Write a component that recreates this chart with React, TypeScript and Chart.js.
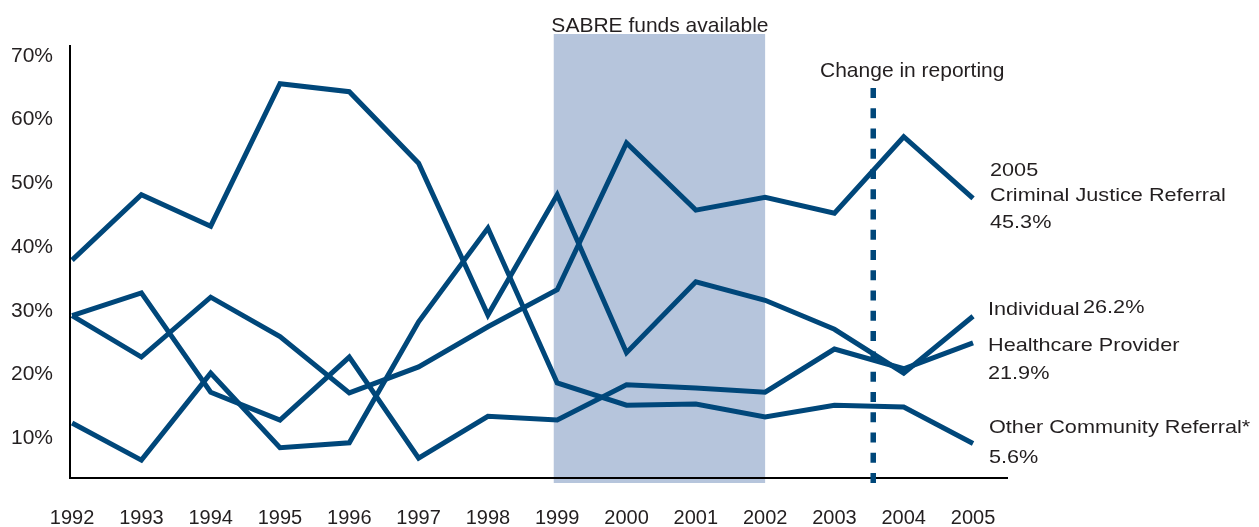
import { useEffect, useRef } from 'react';
import { Chart, registerables } from 'chart.js';

Chart.register(...registerables);

// ---- data ----
const years = [1992, 1993, 1994, 1995, 1996, 1997, 1998, 1999, 2000, 2001, 2002, 2003, 2004, 2005];
const criminalJustice = [26.3, 19.6, 29.3, 22.9, 13.8, 18.0, 24.5, 30.5, 54.3, 43.4, 45.5, 42.9, 55.3, 45.3];
const individual = [35.3, 45.9, 40.8, 63.9, 62.6, 51.0, 26.4, 45.9, 20.3, 31.8, 28.8, 24.1, 17.0, 26.2];
const healthcareProvider = [26.3, 30.0, 13.9, 9.4, 19.6, 3.2, 10.0, 9.4, 15.1, 14.6, 13.9, 20.9, 17.7, 21.9];
const otherCommunity = [8.9, 2.9, 17.0, 4.9, 5.7, 25.3, 40.5, 15.4, 11.8, 12.0, 9.9, 11.8, 11.5, 5.6];
const yTickValues = [10, 20, 30, 40, 50, 60, 70];
const sabrePeriod = [1998.95, 2002.0];
const reportingChange = 2003.56;

const FONT = '"Liberation Sans", Arial, Helvetica, sans-serif';
const LINE = '#00477a';
const SHADE = '#b6c5dc';
const TEXT = '#231f20';

function stretchText(ctx: CanvasRenderingContext2D, text: string, x: number, y: number, size: number, sx: number, align: CanvasTextAlign = 'left') {
  ctx.save();
  ctx.translate(x, y);
  ctx.scale(sx, 1);
  ctx.font = `${size}px ${FONT}`;
  ctx.textAlign = align;
  ctx.textBaseline = 'alphabetic';
  ctx.fillStyle = TEXT;
  ctx.fillText(text, 0, 0);
  ctx.restore();
}

const overlay = {
  id: 'overlay',
  beforeDraw(chart: any) {
    const { ctx, chartArea } = chart;
    const x = chart.scales.x;
    const x0 = x.getPixelForValue(sabrePeriod[0]);
    const x1 = x.getPixelForValue(sabrePeriod[1]);
    ctx.save();
    ctx.fillStyle = SHADE;
    const top = chartArea.top - 12;
    ctx.fillRect(x0, top, x1 - x0, chartArea.bottom + 5 - top);
    ctx.restore();
  },
  afterDraw(chart: any) {
    const { ctx, chartArea } = chart;
    const x = chart.scales.x;
    const xc = x.getPixelForValue(reportingChange);
    ctx.save();
    ctx.strokeStyle = LINE;
    ctx.lineWidth = 5.5;
    ctx.setLineDash([10, 10.26]);
    ctx.beginPath();
    ctx.moveTo(xc, 88);
    ctx.lineTo(xc, chartArea.bottom + 5);
    ctx.stroke();
    ctx.restore();

    const x0 = x.getPixelForValue(sabrePeriod[0]);
    const x1 = x.getPixelForValue(sabrePeriod[1]);
    stretchText(ctx, 'SABRE funds available', (x0 + x1) / 2 + 0.5, 32, 21, 1, 'center');
    stretchText(ctx, 'Change in reporting', xc + 39, 77, 21, 1, 'center');

    const lx = chartArea.right - 17;
    const s = 19, sx = 1.14;
    stretchText(ctx, '2005', lx, 176, s, sx);
    stretchText(ctx, 'Criminal Justice Referral', lx, 201, s, sx);
    stretchText(ctx, '45.3%', lx, 228, s, sx);
    stretchText(ctx, 'Individual', lx - 2, 315, s, sx);
    stretchText(ctx, '26.2%', lx + 93, 313, s, sx);
    stretchText(ctx, 'Healthcare Provider', lx - 2, 351, s, sx);
    stretchText(ctx, '21.9%', lx - 2, 379, s, sx);
    stretchText(ctx, 'Other Community Referral*', lx - 1, 433, s, sx);
    stretchText(ctx, '5.6%', lx - 1, 463, s, sx);
  },
};

function series(values: number[]) {
  return {
    data: years.map((yr, i) => ({ x: yr, y: values[i] })),
    borderColor: LINE,
    backgroundColor: LINE,
    borderWidth: 5,
    pointRadius: 0,
    tension: 0,
    borderJoinStyle: 'miter' as const,
    yAxisID: 'y',
  };
}

export default function App() {
  const ref = useRef<HTMLCanvasElement | null>(null);

  useEffect(() => {
    if (!ref.current) return;
    const chart = new Chart(ref.current, {
      type: 'line',
      data: {
        datasets: [
          { label: 'Criminal Justice Referral', ...series(criminalJustice) },
          { label: 'Individual', ...series(individual) },
          { label: 'Healthcare Provider', ...series(healthcareProvider) },
          { label: 'Other Community Referral*', ...series(otherCommunity) },
        ],
      },
      options: {
        animation: false,
        responsive: false,
        maintainAspectRatio: false,
        layout: { padding: { top: 46, right: 252, left: 0, bottom: 0 } },
        plugins: { legend: { display: false }, tooltip: { enabled: false } },
        scales: {
          x: {
            type: 'linear',
            min: 1991.97,
            max: 2005.49,
            grid: { display: false, drawTicks: false },
            border: { display: true, color: '#000', width: 2, z: 1 },
            afterBuildTicks: (scale: any) => {
              scale.ticks = years.map((v) => ({ value: v }));
            },
            afterFit: (scale: any) => {
              scale.height = 49;
            },
            ticks: {
              autoSkip: false,
              maxRotation: 0,
              padding: 28,
              color: TEXT,
              font: { family: FONT, size: 20 },
              callback: (v: any) => String(v),
            },
          },
          y: {
            type: 'linear',
            display: false,
            min: 0,
            max: 70,
          },
          yLabels: {
            type: 'linear',
            position: 'left',
            min: 3.76,
            max: 71.55,
            grid: { display: false, drawTicks: false },
            border: { display: true, color: '#000', width: 2, z: 1 },
            afterBuildTicks: (scale: any) => {
              scale.ticks = yTickValues.map((v) => ({ value: v }));
            },
            afterFit: (scale: any) => {
              scale.width = 70;
            },
            ticks: {
              padding: 17,
              color: TEXT,
              font: { family: FONT, size: 21 },
              callback: (v: any) => `${v}%`,
            },
          },
        },
      },
      plugins: [overlay],
    });
    return () => chart.destroy();
  }, []);

  return (
    <div style={{ position: 'absolute', left: 0, top: 0, width: 1259, height: 527, background: '#fff' }}>
      <canvas ref={ref} width={1259} height={527} style={{ display: 'block', width: 1259, height: 527 }} />
    </div>
  );
}
